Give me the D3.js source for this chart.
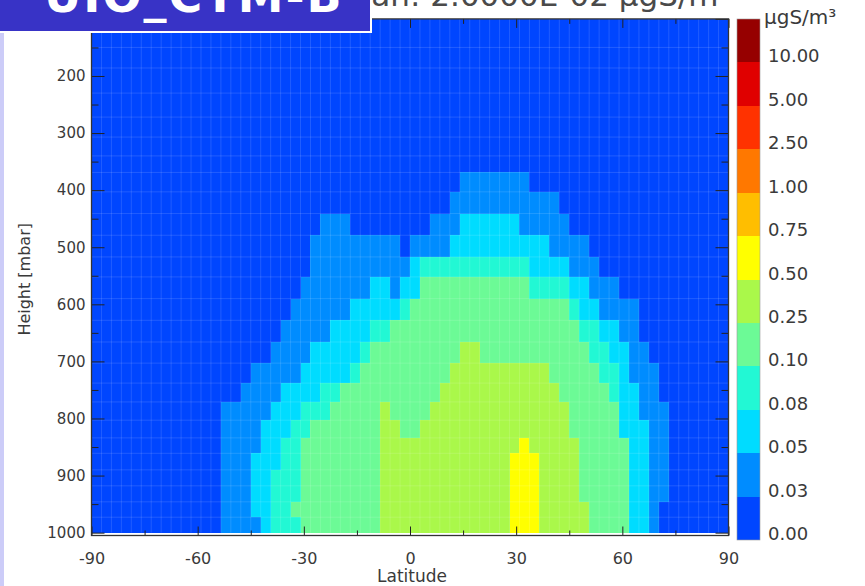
<!DOCTYPE html>
<html>
<head>
<meta charset="utf-8">
<script src="https://cdn.jsdelivr.net/npm/d3@7"></script>
<style>
  html, body { margin: 0; padding: 0; background: #ffffff; overflow: hidden; }
  svg { display: block; }
</style>
</head>
<body>
<svg id="chart" width="865" height="586"></svg>
<script>
// Zonal-mean sulphate concentration (µgS/m³) from UIO_CTM, experiment B.

// 64 model latitude bands from 90S to 90N
const latEdges = d3.range(65).map(i => -90 + i * 2.8125);

// Model layer boundaries in mbar, top to bottom
const pressureEdges = [100, 150, 186, 230, 272, 307, 340, 369, 403, 441, 479, 517, 552,
                       590, 628, 666, 703, 738, 771, 803, 834, 861, 890, 918, 946, 973, 1000];

// Concentration per layer (top to bottom), as runs of [value, number of bands] from 90S
const concRuns = [
  [[0.01, 64]],
  [[0.01, 64]],
  [[0.01, 64]],
  [[0.01, 64]],
  [[0.01, 64]],
  [[0.01, 64]],
  [[0.01, 64]],
  [[0.01, 37], [0.04, 7], [0.01, 20]],
  [[0.01, 36], [0.04, 11], [0.01, 17]],
  [[0.01, 23], [0.04, 3], [0.01, 8], [0.04, 3], [0.06, 6], [0.04, 5], [0.01, 16]],
  [[0.01, 22], [0.04, 9], [0.01, 1], [0.04, 4], [0.06, 10], [0.04, 4], [0.01, 14]],
  [[0.01, 22], [0.04, 10], [0.06, 1], [0.09, 11], [0.06, 4], [0.04, 3], [0.01, 13]],
  [[0.01, 21], [0.04, 7], [0.06, 2], [0.04, 1], [0.06, 2], [0.17, 11], [0.09, 4], [0.06, 2], [0.04, 3], [0.01, 11]],
  [[0.01, 20], [0.04, 6], [0.06, 5], [0.09, 1], [0.17, 16], [0.09, 1], [0.06, 2], [0.04, 4], [0.01, 9]],
  [[0.01, 19], [0.04, 5], [0.06, 4], [0.09, 2], [0.17, 19], [0.09, 2], [0.06, 2], [0.04, 2], [0.01, 9]],
  [[0.01, 18], [0.04, 4], [0.06, 5], [0.09, 1], [0.17, 9], [0.35, 2], [0.17, 11], [0.09, 2], [0.06, 2], [0.04, 2], [0.01, 8]],
  [[0.01, 16], [0.04, 5], [0.06, 5], [0.09, 1], [0.17, 9], [0.35, 10], [0.17, 5], [0.09, 2], [0.06, 1], [0.04, 3], [0.01, 7]],
  [[0.01, 15], [0.04, 4], [0.06, 4], [0.09, 2], [0.17, 10], [0.35, 12], [0.17, 5], [0.09, 1], [0.06, 2], [0.04, 2], [0.01, 7]],
  [[0.01, 13], [0.04, 5], [0.06, 3], [0.09, 3], [0.17, 5], [0.35, 1], [0.17, 4], [0.35, 14], [0.17, 5], [0.06, 2], [0.04, 3], [0.01, 6]],
  [[0.01, 13], [0.04, 4], [0.06, 3], [0.09, 2], [0.17, 7], [0.35, 2], [0.17, 2], [0.35, 15], [0.17, 5], [0.06, 3], [0.04, 2], [0.01, 6]],
  [[0.01, 13], [0.04, 4], [0.06, 2], [0.09, 2], [0.17, 8], [0.35, 14], [0.60, 1], [0.35, 5], [0.17, 5], [0.06, 2], [0.04, 2], [0.01, 6]],
  [[0.01, 13], [0.04, 3], [0.06, 3], [0.09, 2], [0.17, 8], [0.35, 13], [0.60, 3], [0.35, 4], [0.17, 5], [0.06, 2], [0.04, 2], [0.01, 6]],
  [[0.01, 13], [0.04, 3], [0.06, 2], [0.09, 3], [0.17, 8], [0.35, 13], [0.60, 3], [0.35, 4], [0.17, 5], [0.06, 2], [0.04, 2], [0.01, 6]],
  [[0.01, 13], [0.04, 3], [0.06, 2], [0.09, 3], [0.17, 8], [0.35, 13], [0.60, 3], [0.35, 4], [0.17, 5], [0.06, 2], [0.04, 2], [0.01, 6]],
  [[0.01, 13], [0.04, 3], [0.06, 2], [0.09, 2], [0.17, 9], [0.35, 13], [0.60, 3], [0.35, 5], [0.17, 4], [0.06, 2], [0.04, 1], [0.01, 7]],
  [[0.01, 13], [0.04, 4], [0.06, 1], [0.09, 3], [0.17, 8], [0.35, 13], [0.60, 3], [0.35, 5], [0.17, 4], [0.06, 2], [0.04, 1], [0.01, 7]]
];

// Colour classes
const binEdges = [0.03, 0.05, 0.08, 0.10, 0.25, 0.50, 0.75, 1.00, 2.50, 5.00, 10.00];
const binColors = ["#0046ff", "#008cff", "#00dcff", "#22f8d4", "#6cfa96", "#aaf84a",
                   "#ffff00", "#ffbe00", "#ff7800", "#ff3200", "#e00000", "#960000"];
const colorbarLabels = ["0.00", "0.03", "0.05", "0.08", "0.10", "0.25", "0.50",
                        "0.75", "1.00", "2.50", "5.00", "10.00"];

// Axis ticks
const yMajorTicks = d3.range(100, 1001, 100);
const yLabelledTicks = d3.range(200, 1001, 100);
const yMinorTicks = d3.range(150, 1000, 100);
const xMajorTicks = [-90, -60, -30, 0, 30, 60, 90];
const xMinorTicks = [-75, -45, -15, 15, 45, 75];

const svg = d3.select("#chart");
const x = d3.scaleLinear().domain([-90, 90]).range([91.5, 728.5]);
const y = d3.scaleLinear().domain([100, 1005]).range([18.9, 535.5]);
const color = d3.scaleThreshold().domain(binEdges).range(binColors);

// ---- grid cells ----
const cells = [];
concRuns.forEach((runs, r) => {
  let j = 0;
  runs.forEach(([v, n]) => {
    for (let k = 0; k < n; k++, j++) {
      cells.push({ lat0: latEdges[j], lat1: latEdges[j + 1],
                   p0: pressureEdges[r], p1: pressureEdges[r + 1], v });
    }
  });
});

const plot = svg.append("g");
plot.selectAll("rect.cell")
  .data(cells)
  .join("rect")
  .attr("class", "cell")
  .attr("x", d => x(d.lat0))
  .attr("y", d => y(d.p0))
  .attr("width", d => x(d.lat1) - x(d.lat0))
  .attr("height", d => y(d.p1) - y(d.p0))
  .attr("fill", d => color(d.v))
  .attr("shape-rendering", "crispEdges");

// faint cell outlines
const grid = plot.append("g")
  .attr("stroke", "#ffffff")
  .attr("stroke-opacity", 0.13)
  .attr("stroke-width", 1);
grid.selectAll("line.v")
  .data(latEdges.slice(1, -1))
  .join("line")
  .attr("x1", d => x(d)).attr("x2", d => x(d))
  .attr("y1", y(100)).attr("y2", y(1000));
grid.selectAll("line.h")
  .data(pressureEdges.slice(1, -1))
  .join("line")
  .attr("x1", x(-90)).attr("x2", x(90))
  .attr("y1", d => y(d)).attr("y2", d => y(d));

// ---- axes ----
const tickColor = "#222";
const labelColor = "#3a3a3a";
const fontFamily = "'DejaVu Sans', sans-serif";

function styleAxis(g) {
  g.select(".domain").remove();
  g.selectAll(".tick line").attr("stroke", tickColor).attr("stroke-width", 1);
  g.selectAll(".tick text")
    .attr("fill", labelColor)
    .style("font-family", fontFamily);
}

svg.append("g")
  .attr("transform", `translate(${x(-90)},0)`)
  .call(d3.axisLeft(y).tickValues(yMajorTicks).tickSize(-13).tickFormat(""))
  .call(styleAxis);
svg.append("g")
  .attr("transform", `translate(${x(-90)},0)`)
  .call(d3.axisLeft(y).tickValues(yLabelledTicks).tickSize(0).tickPadding(6)
          .tickFormat(d => String(d)))
  .call(styleAxis)
  .call(g => g.selectAll(".tick text").style("font-size", "15px"));
svg.append("g")
  .attr("transform", `translate(${x(-90)},0)`)
  .call(d3.axisLeft(y).tickValues(yMinorTicks).tickSize(-7).tickFormat(""))
  .call(styleAxis);

svg.append("g")
  .attr("transform", `translate(${x(90)},0)`)
  .call(d3.axisRight(y).tickValues(yMajorTicks).tickSize(-13).tickFormat(""))
  .call(styleAxis);
svg.append("g")
  .attr("transform", `translate(${x(90)},0)`)
  .call(d3.axisRight(y).tickValues(yMinorTicks).tickSize(-7).tickFormat(""))
  .call(styleAxis);

svg.append("g")
  .attr("transform", `translate(0,${y(1005)})`)
  .call(d3.axisBottom(x).tickValues(xMajorTicks).tickSize(-9).tickPadding(17)
          .tickFormat(d => String(d)))
  .call(styleAxis)
  .call(g => g.selectAll(".tick text").style("font-size", "16px"));
svg.append("g")
  .attr("transform", `translate(0,${y(1005)})`)
  .call(d3.axisBottom(x).tickValues(xMinorTicks).tickSize(-5).tickFormat(""))
  .call(styleAxis);

svg.append("g")
  .attr("transform", `translate(0,${y(100)})`)
  .call(d3.axisTop(x).tickValues(xMajorTicks).tickSize(-9).tickFormat(""))
  .call(styleAxis);
svg.append("g")
  .attr("transform", `translate(0,${y(100)})`)
  .call(d3.axisTop(x).tickValues(xMinorTicks).tickSize(-5).tickFormat(""))
  .call(styleAxis);

// plot frame
svg.append("rect")
  .attr("x", x(-90)).attr("y", y(100))
  .attr("width", x(90) - x(-90)).attr("height", y(1005) - y(100))
  .attr("fill", "none")
  .attr("stroke", "#333")
  .attr("stroke-width", 1.3);

// axis titles
svg.append("text")
  .attr("x", x(0) + 2).attr("y", 582)
  .attr("text-anchor", "middle")
  .attr("fill", labelColor)
  .style("font-family", fontFamily).style("font-size", "17px")
  .text("Latitude");

svg.append("text")
  .attr("transform", `translate(29.5,${(y(200) + y(1000)) / 2 - 25}) rotate(-90)`)
  .attr("text-anchor", "middle")
  .attr("fill", labelColor)
  .style("font-family", fontFamily).style("font-size", "16px")
  .text("Height [mbar]");

// ---- colour bar ----
const cb = d3.scaleLinear().domain([0, binColors.length]).range([540, 19]);
const cbar = svg.append("g");
cbar.selectAll("rect")
  .data(binColors)
  .join("rect")
  .attr("x", 737).attr("width", 23)
  .attr("y", (d, i) => cb(i + 1))
  .attr("height", (d, i) => cb(i) - cb(i + 1))
  .attr("fill", d => d)
  .attr("shape-rendering", "crispEdges");
cbar.append("rect")
  .attr("x", 737).attr("width", 23)
  .attr("y", cb(binColors.length)).attr("height", cb(0) - cb(binColors.length))
  .attr("fill", "none").attr("stroke", "#9a9a9a").attr("stroke-width", 0.6);
cbar.selectAll("text.lab")
  .data(colorbarLabels)
  .join("text")
  .attr("class", "lab")
  .attr("x", 768)
  .attr("y", (d, i) => cb(i))
  .attr("fill", labelColor)
  .style("font-family", fontFamily).style("font-size", "18px")
  .text(d => d);
cbar.append("text")
  .attr("x", 764).attr("y", 24)
  .attr("fill", labelColor)
  .style("font-family", fontFamily).style("font-size", "20px")
  .text("µgS/m³");

// plot title line, running off the top edge
svg.append("text")
  .attr("x", 731).attr("y", 6)
  .attr("text-anchor", "end")
  .attr("fill", "#4a4a4a")
  .style("font-family", fontFamily).style("font-size", "31px")
  .text("SO4 mean: 2.0000E-02 µgS/m³");

// ---- slide decoration ----
svg.append("rect")
  .attr("x", 0).attr("y", 0).attr("width", 4).attr("height", 586)
  .attr("fill", "#ccccf8");
svg.append("rect")
  .attr("x", -3).attr("y", -3).attr("width", 374).attr("height", 35)
  .attr("fill", "#3833c6")
  .attr("stroke", "#ffffff").attr("stroke-width", 2);
svg.append("text")
  .attr("x", 44).attr("y", 12)
  .attr("fill", "#ffffff")
  .style("font-family", fontFamily).style("font-weight", "bold")
  .style("font-size", "46px").style("letter-spacing", "2px")
  .text("UIO_CTM-B");
</script>
</body>
</html>
